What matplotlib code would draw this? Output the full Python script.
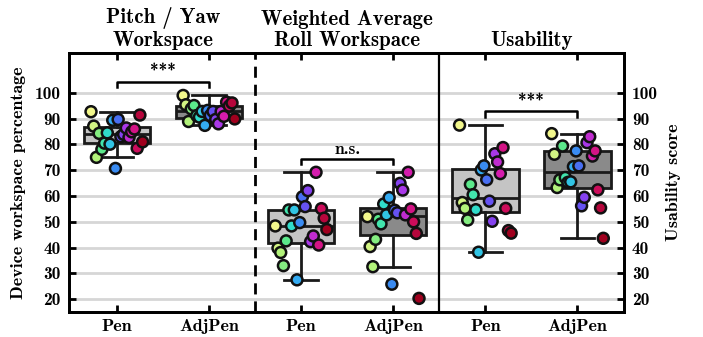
import matplotlib
matplotlib.use("Agg")
import matplotlib.pyplot as plt
import numpy as np
from matplotlib.colors import LinearSegmentedColormap

# Computer Modern bold, shipped with matplotlib
plt.rcParams["font.family"] = "cmb10"
plt.rcParams["axes.unicode_minus"] = False

# DATA (one value per participant, same order in every group)
groups = ["Pitch / Yaw\nWorkspace", "Weighted Average\nRoll Workspace", "Usability"]
devices = ["Pen", "AdjPen"]

pitch_pen = [92.7, 87.1, 75.0, 84.3, 78.1, 80.5, 84.5, 80.1, 89.4, 70.7,
             89.7, 83.0, 83.9, 86.4, 82.7, 84.9, 86.0, 78.5, 91.4, 81.0]
pitch_adj = [99.0, 95.4, 88.9, 93.8, 95.1, 91.2, 90.6, 92.8, 87.4, 93.2,
             91.2, 92.8, 89.7, 88.0, 92.8, 90.9, 96.4, 94.9, 96.1, 89.9]
roll_pen = [48.4, 39.8, 38.1, 33.0, 42.6, 54.6, 48.4, 54.6, 27.5, 49.7,
            59.7, 55.9, 62.1, 42.3, 44.5, 69.2, 41.0, 55.1, 51.4, 47.0]
roll_adj = [52.0, 40.4, 32.6, 43.2, 51.0, 49.2, 56.9, 52.7, 59.4, 25.8,
            54.5, 53.5, 64.9, 62.3, 52.7, 69.2, 55.0, 50.0, 45.5, 20.3]
usab_pen = [87.5, 57.5, 55.2, 50.7, 64.5, 60.5, 54.7, 38.2, 70.1, 71.7,
            66.3, 58.0, 50.2, 76.4, 73.2, 68.7, 78.8, 55.2, 46.6, 45.6]
usab_adj = [84.2, 76.2, 63.3, 66.3, 79.4, 67.2, 65.3, 65.5, 71.4, 77.5,
            71.7, 56.2, 59.5, 80.7, 83.0, 75.5, 77.5, 62.4, 55.4, 43.6]

daten = [pitch_pen, pitch_adj, roll_pen, roll_adj, usab_pen, usab_adj]
signif = ["***", "n.s.", "***"]

yticks = [20, 30, 40, 50, 60, 70, 80, 90, 100]

# colours per participant
farben = ["#f2f78c", "#b4f27a", "#5fea86", "#30e2c4", "#32b6f2", "#3c7cf2",
          "#7048f2", "#b236e6", "#d81aa8", "#cc0c58", "#a0001e"]
cmap = LinearSegmentedColormap.from_list("teilnehmer", farben)
n = len(pitch_pen)
kolory = [cmap(i / (n - 1)) for i in range(n)]
offsets = np.linspace(-0.28, 0.28, n)

fig = plt.figure(figsize=(7.03, 3.37), dpi=100)
ax = fig.add_axes([0.098, 0.074, 0.789, 0.769])

pos = np.arange(len(daten))

# grid
for t in yticks:
    ax.axhline(t, color="#d6d6d6", lw=2, zorder=0)

bp = ax.boxplot(daten, positions=pos, widths=0.72, patch_artist=True,
                showfliers=False, capwidths=0.36,
                boxprops=dict(lw=2, edgecolor="#1a1a1a"),
                whiskerprops=dict(lw=2, color="#1a1a1a"),
                capprops=dict(lw=2, color="#1a1a1a"),
                medianprops=dict(lw=2, color="#1a1a1a"),
                zorder=2)
for i, box in enumerate(bp["boxes"]):
    box.set_facecolor("#c4c4c4" if i % 2 == 0 else "#8a8a8a")

# participant points
for i, werte in enumerate(daten):
    ax.scatter(pos[i] + offsets, werte, s=62, c=kolory, edgecolors="#111111",
               linewidths=1.8, zorder=3)

# separators
ax.axvline(1.5, color="black", lw=2, ls=(0, (4, 2.5)), zorder=4)
ax.axvline(3.5, color="black", lw=1.6, zorder=4)

# significance brackets
for g in range(3):
    a, b = 2 * g, 2 * g + 1
    h = max(max(daten[a]), max(daten[b])) + 5.3
    ax.plot([a, a, b, b], [h - 2, h, h, h - 2], color="black", lw=1.8, zorder=4)
    ax.text((a + b) / 2, h + 0.8, signif[g], ha="center", va="bottom", fontsize=12.5)

# titles
for g in range(3):
    ax.text(2 * g + 0.5, 116.5, groups[g], ha="center", va="bottom",
            fontsize=15, linespacing=1.15)

ax.set_xlim(-0.52, 5.5)
ax.set_ylim(15, 115.5)
ax.set_xticks(pos)
ax.set_xticklabels(devices * 3, fontsize=13)
ax.set_yticks(yticks)
ax.set_yticklabels([str(t) for t in yticks], fontsize=12.5)
ax.tick_params(axis="both", direction="in", length=5, width=2, top=True)
ax.tick_params(axis="x", pad=5)
ax.tick_params(axis="y", pad=6)
ax.set_ylabel("Device workspace percentage", fontsize=13, labelpad=6)
for s in ax.spines.values():
    s.set_linewidth(2)

ax2 = ax.twinx()
ax2.set_ylim(ax.get_ylim())
ax2.set_yticks(yticks)
ax2.set_yticklabels([str(t) for t in yticks], fontsize=12.5)
ax2.tick_params(axis="y", direction="in", length=5, width=2, pad=6)
ax2.set_ylabel("Usability score", fontsize=13, rotation=90, labelpad=6)
for s in ax2.spines.values():
    s.set_linewidth(2)

fig.savefig("out.png", dpi=100)
